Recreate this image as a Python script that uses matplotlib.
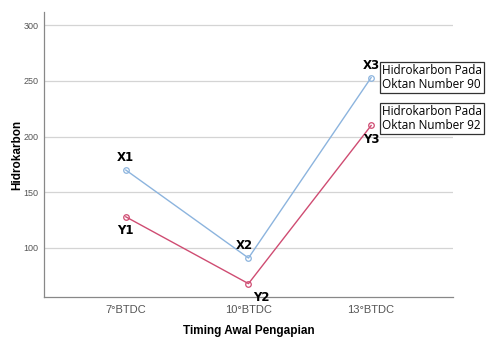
import matplotlib
matplotlib.use("Agg")
import matplotlib.pyplot as plt

categories = ["7°BTDC", "10°BTDC", "13°BTDC"]
oktan_90 = [170, 91, 253]
oktan_92 = [128, 68, 210]
labels_90 = ["X1", "X2", "X3"]
labels_92 = ["Y1", "Y2", "Y3"]
yticks = [100, 150, 200, 250, 300]

plt.rcParams['font.family'] = ['Liberation Sans', 'DejaVu Sans']

fig = plt.figure(figsize=(4.86, 3.4), dpi=100)
ax = fig.add_axes([0.0905, 0.1265, 0.8415, 0.8385])

blue = '#8cb4de'
red = '#cf4c72'
x = range(len(categories))
ax.plot(x, oktan_90, color=blue, lw=1.0, marker='o', ms=4, mfc='none', mew=0.9, zorder=3)
ax.plot(x, oktan_92, color=red, lw=1.0, marker='o', ms=4, mfc='none', mew=0.9, zorder=3)

ax.set_xlim(-0.667, 2.667)
ax.set_ylim(56, 312)
ax.set_yticks(yticks)
ax.set_xticks(list(x))
ax.set_xticklabels(categories)
ax.tick_params(axis='y', length=0, labelsize=6.5, colors='#555555', pad=4)
ax.tick_params(axis='x', length=0, labelsize=8, colors='#555555', pad=6)
ax.grid(axis='y', color='#d4d4d4', lw=0.9)
ax.set_axisbelow(True)
for s in ['top', 'right']:
    ax.spines[s].set_visible(False)
for s in ['left', 'bottom']:
    ax.spines[s].set_color('#888888')
    ax.spines[s].set_linewidth(0.9)

ax.set_ylabel('Hidrokarbon', fontsize=8.5, fontweight='bold')
ax.set_xlabel('Timing Awal Pengapian', fontsize=8.5, fontweight='bold')
ax.yaxis.set_label_coords(-0.05, 0.5)
ax.xaxis.set_label_coords(0.5, -0.1)

# point labels
offs_90 = [(0, 9), (-3, 9), (0, 9)]
offs_92 = [(0, -10), (9, -10), (0, -10)]
for i in x:
    ax.annotate(labels_90[i], (i, oktan_90[i]), xytext=offs_90[i], textcoords='offset points',
                ha='center', va='center', fontsize=8.5, fontweight='bold', family=['DejaVu Sans'])
    ax.annotate(labels_92[i], (i, oktan_92[i]), xytext=offs_92[i], textcoords='offset points',
                ha='center', va='center', fontsize=8.5, fontweight='bold', family=['DejaVu Sans'])

box = dict(boxstyle='square,pad=0.15', fc='white', ec='#333333', lw=0.9)
ax.annotate('Hidrokarbon Pada\nOktan Number 90', (2, oktan_90[2]), xytext=(8, 0),
            textcoords='offset points', ha='left', va='center', fontsize=8.5,
            linespacing=1.15, bbox=box, annotation_clip=False, family=['Open Sans', 'DejaVu Sans'])
ax.annotate('Hidrokarbon Pada\nOktan Number 92', (2, oktan_92[2]), xytext=(8, 5),
            textcoords='offset points', ha='left', va='center', fontsize=8.5,
            linespacing=1.15, bbox=box, annotation_clip=False, family=['Open Sans', 'DejaVu Sans'])

fig.savefig('out.png', dpi=100)
